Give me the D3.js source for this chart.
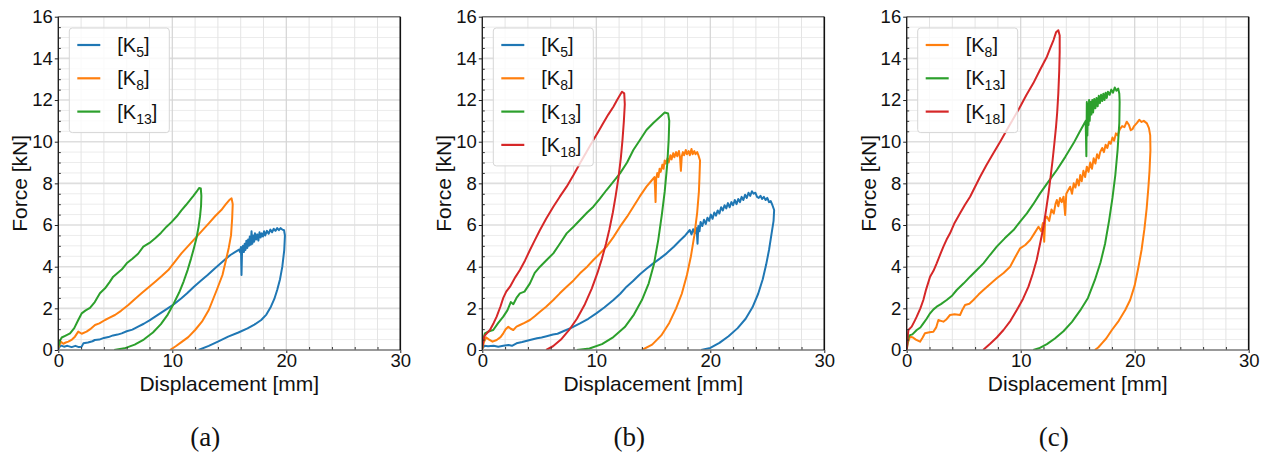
<!DOCTYPE html>
<html><head><meta charset="utf-8">
<script src="https://cdn.jsdelivr.net/npm/d3@7"></script>
<style>body{margin:0;background:#fff} svg{display:block}</style>
</head><body>
<svg id="fig" width="1267" height="460"></svg>
<script>
// Axis ticks
const xTicks = [0, 10, 20, 30];
const yTicks = [0, 2, 4, 6, 8, 10, 12, 14, 16];
const xMinor = d3.range(0, 30.01, 2);
const yMinor = d3.range(0, 16.01, 0.5);

const seriesColor = {K5: "#1f77b4", K8: "#ff7f0e", K13: "#2ca02c", K18: "#d62728"};
const seriesSub = {K5: "5", K8: "8", K13: "13", K18: "18"};

// ---- (a) force–displacement loops: [displacement mm, force kN]
const a_K5 = [[0,0.05],[0.2,0.22],[0.5,0.16],[0.8,0.2],[1.17,0.14],[1.5,0.2],[1.8,0.14],[2.05,0.16],[2.2,0.32],[2.6,0.36],[3.0,0.42],[3.2,0.48],[3.6,0.5],[4.0,0.58],[4.4,0.62],[4.8,0.7],[5.2,0.74],[5.56,0.8],[6.0,0.9],[6.5,0.98],[7.0,1.12],[7.5,1.26],[8.0,1.42],[8.5,1.6],[9.0,1.78],[9.6,2.0],[10.2,2.22],[10.8,2.48],[11.3,2.72],[11.9,3.04],[12.5,3.32],[13.1,3.6],[13.7,3.9],[14.25,4.16],[14.7,4.38],[15.1,4.56],[15.5,4.7],[15.86,4.82],[15.95,4.7],[16.02,4.95],[16.07,3.6],[16.12,4.75],[16.2,5.0],[16.28,4.7],[16.35,5.1],[16.42,4.8],[16.5,5.25],[16.58,4.9],[16.65,5.3],[16.72,5.0],[16.8,5.45],[16.88,5.05],[16.95,5.7],[17.02,5.1],[17.1,5.5],[17.18,5.2],[17.25,5.6],[17.35,5.3],[17.45,5.55],[17.55,5.25],[17.65,5.65],[17.75,5.4],[17.85,5.6],[17.95,5.45],[18.05,5.7],[18.15,5.5],[18.3,5.72],[18.45,5.58],[18.6,5.78],[18.75,5.65],[18.9,5.82],[19.05,5.72],[19.2,5.85],[19.35,5.75],[19.5,5.85],[19.65,5.78],[19.8,5.75],[19.88,5.5],[19.82,4.8],[19.65,4.0],[19.45,3.4],[19.2,2.88],[18.95,2.45],[18.65,2.08],[18.25,1.7],[17.8,1.44],[17.2,1.22],[16.6,1.04],[15.8,0.84],[14.9,0.64],[14.0,0.4],[13.2,0.2],[12.3,0]];
const a_K8 = [[0,0.1],[0.23,0.4],[0.44,0.3],[0.65,0.36],[0.88,0.4],[1.2,0.5],[1.46,0.64],[1.75,0.88],[2.05,0.78],[2.48,0.88],[2.8,1.0],[3.22,1.2],[3.6,1.28],[4.1,1.44],[4.5,1.55],[4.97,1.68],[5.5,1.88],[6.14,2.16],[6.7,2.44],[7.3,2.72],[7.9,3.0],[8.5,3.28],[9.1,3.56],[9.65,3.84],[10.2,4.22],[10.8,4.64],[11.4,5.0],[12.0,5.36],[12.6,5.72],[13.2,6.08],[13.75,6.42],[14.3,6.72],[14.7,7.0],[15.0,7.2],[15.2,7.28],[15.3,7.0],[15.25,6.3],[15.15,5.5],[14.95,4.9],[14.7,4.3],[14.4,3.6],[13.9,2.88],[13.2,1.92],[12.6,1.36],[12.0,0.96],[11.4,0.62],[10.8,0.38],[10.3,0.18],[9.8,0]];
const a_K13 = [[0,0.16],[0.15,0.45],[0.3,0.6],[0.6,0.68],[1.03,0.8],[1.4,1.05],[1.75,1.44],[1.9,1.6],[2.05,1.76],[2.4,1.9],[2.78,2.02],[3.2,2.3],[3.65,2.72],[4.1,2.96],[4.5,3.26],[4.82,3.52],[5.2,3.7],[5.56,3.86],[6.0,4.16],[6.5,4.38],[7.0,4.62],[7.46,4.96],[8.0,5.14],[8.5,5.36],[9.0,5.62],[9.5,5.92],[9.95,6.15],[10.4,6.42],[10.8,6.7],[11.2,6.96],[11.55,7.2],[11.85,7.4],[12.13,7.6],[12.35,7.78],[12.5,7.75],[12.55,7.4],[12.52,6.9],[12.43,6.4],[12.3,5.9],[12.13,5.4],[11.9,4.9],[11.65,4.4],[11.35,3.85],[11.0,3.3],[10.6,2.76],[10.1,2.2],[9.6,1.7],[9.0,1.24],[8.3,0.84],[7.5,0.5],[6.7,0.26],[5.8,0.08],[4.9,0]];

// ---- (b)
const b_K5 = [[0,0.08],[0.2,0.2],[0.5,0.18],[1.0,0.2],[1.4,0.16],[1.84,0.2],[2.3,0.24],[2.6,0.2],[3.0,0.32],[3.5,0.38],[4.18,0.48],[4.8,0.56],[5.2,0.6],[5.64,0.66],[6.2,0.74],[6.6,0.78],[7.1,0.9],[7.8,1.06],[8.57,1.28],[9.3,1.5],[10.0,1.76],[10.7,2.04],[11.5,2.4],[12.1,2.7],[12.66,3.04],[13.2,3.3],[13.83,3.64],[14.4,3.9],[15.0,4.16],[15.6,4.4],[16.17,4.64],[16.8,4.96],[17.34,5.26],[17.8,5.5],[18.2,5.76],[18.35,5.55],[18.5,5.8],[18.65,5.6],[18.8,5.85],[18.88,5.1],[18.95,5.95],[19.05,5.7],[19.15,6.15],[19.3,5.95],[19.45,6.25],[19.6,6.05],[19.75,6.35],[19.9,6.2],[20.05,6.5],[20.2,6.3],[20.35,6.6],[20.5,6.45],[20.65,6.7],[20.8,6.55],[20.95,6.85],[21.1,6.7],[21.25,6.95],[21.4,6.8],[21.55,7.05],[21.7,6.85],[21.85,7.1],[22.0,6.95],[22.15,7.2],[22.3,7.0],[22.45,7.25],[22.6,7.1],[22.75,7.35],[22.9,7.2],[23.05,7.45],[23.2,7.3],[23.35,7.55],[23.5,7.4],[23.65,7.62],[23.8,7.5],[23.95,7.55],[24.1,7.35],[24.25,7.3],[24.4,7.4],[24.55,7.25],[24.7,7.35],[24.85,7.2],[25.0,7.3],[25.15,7.1],[25.3,7.15],[25.45,6.95],[25.6,6.72],[25.55,6.2],[25.35,5.5],[25.15,4.8],[24.9,4.1],[24.6,3.4],[24.2,2.7],[23.7,2.05],[23.1,1.5],[22.4,1.05],[21.6,0.66],[20.8,0.34],[20.0,0.1],[19.2,0]];
const b_K8 = [[0,0.05],[0.15,0.4],[0.35,0.6],[0.6,0.5],[0.9,0.4],[1.26,0.48],[1.6,0.62],[1.84,0.8],[2.05,1.0],[2.28,1.12],[2.5,1.02],[2.72,0.96],[3.0,1.12],[3.3,1.2],[3.7,1.3],[4.18,1.44],[4.6,1.62],[5.06,1.84],[5.6,2.08],[6.23,2.4],[6.8,2.72],[7.4,3.04],[8.0,3.34],[8.57,3.68],[9.2,4.0],[9.74,4.32],[10.3,4.62],[10.9,4.96],[11.5,5.42],[12.08,5.92],[12.7,6.4],[13.25,6.88],[13.8,7.36],[14.4,7.84],[14.8,8.1],[15.1,8.3],[15.15,7.8],[15.2,7.1],[15.25,8.2],[15.35,8.5],[15.45,8.3],[15.55,8.7],[15.65,8.55],[15.8,8.9],[15.9,8.7],[16.0,9.1],[16.1,8.95],[16.25,9.2],[16.35,9.0],[16.5,9.35],[16.6,9.15],[16.75,9.45],[16.85,9.25],[17.0,9.5],[17.1,9.3],[17.25,9.55],[17.35,9.2],[17.42,8.6],[17.5,9.3],[17.6,9.5],[17.7,9.35],[17.85,9.6],[17.95,9.4],[18.1,9.55],[18.2,9.35],[18.35,9.65],[18.45,9.4],[18.6,9.55],[18.7,9.4],[18.85,9.5],[18.95,9.36],[19.1,9.1],[19.05,8.3],[19.0,7.6],[18.85,6.6],[18.6,5.5],[18.3,4.5],[17.95,3.6],[17.5,2.7],[17.0,2.0],[16.4,1.3],[15.7,0.7],[14.9,0.26],[14.0,0]];
const b_K13 = [[0,0.08],[0.12,0.6],[0.23,0.8],[0.6,0.9],[0.96,0.96],[1.4,1.3],[1.84,1.6],[2.2,1.9],[2.5,2.3],[2.72,2.2],[3.0,2.5],[3.3,2.72],[3.7,2.8],[4.18,3.2],[4.6,3.7],[5.06,4.0],[5.6,4.3],[6.23,4.64],[6.8,5.1],[7.4,5.6],[8.0,5.92],[8.57,6.24],[9.2,6.6],[9.74,6.88],[10.3,7.25],[10.9,7.68],[11.5,8.08],[12.08,8.48],[12.7,9.0],[13.25,9.6],[13.8,10.06],[14.4,10.56],[15.0,10.9],[15.6,11.2],[16.0,11.4],[16.3,11.35],[16.4,11.0],[16.35,10.1],[16.22,8.9],[16.0,7.6],[15.75,6.5],[15.44,5.3],[15.05,4.1],[14.6,3.2],[14.0,2.4],[13.3,1.7],[12.5,1.1],[11.5,0.62],[10.5,0.28],[9.4,0.07],[8.3,0]];
const b_K18 = [[0,0.08],[0.1,0.5],[0.23,0.7],[0.67,0.96],[1.0,1.3],[1.26,1.6],[1.6,2.1],[1.84,2.5],[2.1,2.8],[2.43,3.04],[2.9,3.5],[3.3,3.84],[3.75,4.3],[4.18,4.8],[4.6,5.26],[5.06,5.76],[5.6,6.3],[6.23,6.88],[6.8,7.36],[7.4,7.84],[8.0,8.4],[8.57,8.96],[9.15,9.52],[9.74,10.08],[10.2,10.5],[10.6,10.88],[11.05,11.3],[11.5,11.68],[11.8,11.98],[12.08,12.24],[12.25,12.4],[12.45,12.32],[12.5,11.8],[12.42,11.0],[12.3,10.1],[12.15,9.2],[11.95,8.3],[11.7,7.4],[11.45,6.6],[11.15,5.8],[10.85,5.1],[10.5,4.4],[10.1,3.7],[9.6,2.95],[9.0,2.2],[8.3,1.5],[7.6,0.95],[6.9,0.5],[6.2,0.18],[5.6,0]];

// ---- (c)
const c_K8 = [[0,0],[0.1,0.35],[0.29,0.64],[0.55,0.6],[0.8,0.5],[1.17,0.4],[1.4,0.6],[1.6,0.8],[2.0,0.85],[2.34,0.88],[2.6,1.1],[2.78,1.44],[3.0,1.4],[3.22,1.36],[3.5,1.48],[3.8,1.68],[4.2,1.72],[4.68,1.68],[4.9,1.95],[5.12,2.16],[5.5,2.22],[5.85,2.4],[6.3,2.66],[6.73,2.88],[7.3,3.16],[7.9,3.44],[8.5,3.7],[9.07,4.0],[9.5,4.44],[9.95,4.88],[10.4,5.04],[10.83,5.28],[11.2,5.6],[11.56,5.92],[11.8,5.7],[11.95,6.1],[12.06,5.2],[12.15,6.3],[12.3,6.4],[12.5,6.2],[12.7,6.75],[12.9,6.55],[13.05,7.0],[13.17,7.2],[13.3,6.9],[13.45,7.3],[13.6,7.1],[13.76,7.36],[13.9,6.48],[14.0,7.5],[14.2,7.7],[14.34,7.84],[14.5,7.5],[14.65,8.0],[14.8,7.8],[14.95,8.2],[15.1,7.9],[15.22,8.4],[15.35,8.1],[15.5,8.6],[15.65,8.3],[15.8,8.8],[15.95,8.55],[16.1,9.0],[16.25,8.7],[16.4,9.2],[16.55,8.95],[16.7,9.4],[16.85,9.2],[16.97,9.5],[17.15,9.7],[17.3,9.5],[17.45,9.85],[17.6,9.7],[17.75,10.0],[17.9,9.9],[18.05,10.2],[18.2,10.05],[18.35,10.4],[18.5,10.3],[18.7,10.6],[18.9,10.75],[19.1,10.7],[19.3,10.96],[19.5,10.8],[19.65,10.55],[19.8,10.6],[19.95,10.75],[20.2,10.9],[20.4,11.05],[20.6,10.95],[20.8,11.0],[21.07,10.88],[21.25,10.65],[21.36,10.3],[21.38,9.6],[21.3,8.6],[21.2,7.8],[21.05,6.8],[20.85,5.8],[20.6,4.8],[20.3,3.9],[20.0,3.1],[19.6,2.4],[19.17,1.92],[18.6,1.4],[18.0,0.96],[17.5,0.55],[17.12,0.32],[16.8,0.12],[16.5,0]];
const c_K13 = [[0,0],[0.1,0.5],[0.23,0.7],[0.5,0.75],[0.88,0.96],[1.2,1.08],[1.46,1.28],[1.75,1.5],[2.05,1.76],[2.35,1.95],[2.63,2.08],[3.0,2.2],[3.51,2.4],[4.0,2.62],[4.39,2.88],[5.0,3.2],[5.56,3.52],[6.15,3.84],[6.73,4.16],[7.3,4.56],[7.9,4.96],[8.6,5.36],[9.37,5.76],[9.95,6.16],[10.54,6.56],[11.1,7.0],[11.7,7.52],[12.4,8.06],[13.17,8.64],[13.9,9.26],[14.63,9.92],[15.2,10.5],[15.6,10.9],[15.7,11.0],[15.76,9.3],[15.8,11.9],[15.85,10.3],[15.9,11.8],[15.95,10.8],[16.0,12.0],[16.05,11.0],[16.12,11.9],[16.2,11.3],[16.28,12.0],[16.35,11.4],[16.45,12.05],[16.55,11.6],[16.65,12.1],[16.75,11.7],[16.85,12.2],[16.95,11.85],[17.05,12.25],[17.15,11.95],[17.25,12.3],[17.35,12.0],[17.45,12.35],[17.55,12.1],[17.65,12.4],[17.8,12.25],[17.95,12.5],[18.1,12.35],[18.25,12.6],[18.4,12.45],[18.55,12.55],[18.65,12.3],[18.68,11.9],[18.65,10.9],[18.5,9.6],[18.3,8.4],[18.05,7.3],[17.75,6.2],[17.4,5.1],[17.0,4.2],[16.5,3.35],[15.9,2.5],[15.22,1.9],[14.5,1.35],[13.75,0.9],[13.0,0.55],[12.3,0.28],[11.6,0.08],[11.1,0]];
const c_K18 = [[0,0],[0.08,0.6],[0.15,0.96],[0.44,1.12],[0.7,1.4],[0.88,1.6],[1.2,2.0],[1.46,2.4],[1.7,2.9],[2.05,3.52],[2.35,3.8],[2.63,4.16],[2.95,4.6],[3.22,4.96],[3.5,5.3],[3.8,5.6],[4.2,6.1],[4.68,6.56],[5.1,6.96],[5.56,7.36],[6.0,7.84],[6.44,8.32],[7.0,8.88],[7.6,9.44],[8.2,10.0],[8.78,10.56],[9.35,11.1],[9.95,11.68],[10.5,12.24],[11.1,12.8],[11.7,13.45],[12.3,14.08],[12.6,14.5],[12.88,14.88],[13.1,15.25],[13.3,15.35],[13.42,15.1],[13.42,14.3],[13.38,13.4],[13.3,12.32],[13.2,11.4],[13.1,10.72],[12.95,9.9],[12.8,9.12],[12.62,8.3],[12.44,7.52],[12.22,6.7],[12.0,5.92],[11.7,5.1],[11.4,4.32],[11.05,3.65],[10.68,3.04],[10.2,2.45],[9.66,1.92],[9.1,1.4],[8.49,0.96],[7.9,0.6],[7.32,0.3],[6.7,0]];

const panels = [
  {caption: "(a)", left: 58.3,  series: [["K5", a_K5], ["K8", a_K8], ["K13", a_K13]]},
  {caption: "(b)", left: 482.3, series: [["K5", b_K5], ["K8", b_K8], ["K13", b_K13], ["K18", b_K18]]},
  {caption: "(c)", left: 906.7, series: [["K8", c_K8], ["K13", c_K13], ["K18", c_K18]]}
];

const plotW = 342, plotTop = 16.7, plotBottom = 350;
const sans = "'Liberation Sans', Arial, Helvetica, sans-serif";
const svg = d3.select("#fig");
svg.append("rect").attr("width", 1267).attr("height", 460).attr("fill", "#fff");

panels.forEach((p, i) => {
  const x = d3.scaleLinear().domain([0, 30]).range([p.left, p.left + plotW]);
  const y = d3.scaleLinear().domain([0, 16]).range([plotBottom, plotTop]);
  const g = svg.append("g");

  // grid: minor first, major on top
  g.selectAll(".hmin").data(yMinor.filter(v => v % 2 !== 0)).join("line")
    .attr("x1", x(0)).attr("x2", x(30)).attr("y1", d => y(d)).attr("y2", d => y(d))
    .attr("stroke", "#ececec").attr("stroke-width", 1);
  g.selectAll(".vmin").data(xMinor.filter(v => v % 10 !== 0)).join("line")
    .attr("y1", y(0)).attr("y2", y(16)).attr("x1", d => x(d)).attr("x2", d => x(d))
    .attr("stroke", "#e4e4e4").attr("stroke-width", 1);
  g.selectAll(".hmaj").data(yTicks.slice(1, -1)).join("line")
    .attr("x1", x(0)).attr("x2", x(30)).attr("y1", d => y(d)).attr("y2", d => y(d))
    .attr("stroke", "#dedede").attr("stroke-width", 1.6);
  g.selectAll(".vmaj").data(xTicks.slice(1, -1)).join("line")
    .attr("y1", y(0)).attr("y2", y(16)).attr("x1", d => x(d)).attr("x2", d => x(d))
    .attr("stroke", "#d4d4d4").attr("stroke-width", 1.2);

  // curves
  const clipId = "clip" + i;
  svg.append("clipPath").attr("id", clipId).append("rect")
    .attr("x", x(0)).attr("y", y(16)).attr("width", plotW).attr("height", plotBottom - plotTop);
  const line = d3.line().x(d => x(d[0])).y(d => y(d[1]));
  const curves = g.append("g").attr("clip-path", `url(#${clipId})`);
  p.series.forEach(([key, pts]) => {
    curves.append("path").datum(pts).attr("d", line)
      .attr("fill", "none").attr("stroke", seriesColor[key]).attr("stroke-width", 2)
      .attr("stroke-linejoin", "round");
  });

  // minor ticks (inward)
  const xm = g.append("g").attr("transform", `translate(0,${plotBottom})`)
    .call(d3.axisBottom(x).tickValues(xMinor.filter(v => v % 10 !== 0)).tickSize(-3).tickFormat(""));
  const ym = g.append("g").attr("transform", `translate(${x(0)},0)`)
    .call(d3.axisLeft(y).tickValues(yMinor.filter(v => v % 2 !== 0)).tickSize(-2.5).tickFormat(""));
  [xm, ym].forEach(a => { a.select(".domain").remove(); a.selectAll("line").attr("stroke", "#333"); });

  // major ticks and labels
  const xa = g.append("g").attr("transform", `translate(0,${plotBottom})`)
    .call(d3.axisBottom(x).tickValues(xTicks).tickSize(3).tickPadding(1));
  const ya = g.append("g").attr("transform", `translate(${x(0)},0)`)
    .call(d3.axisLeft(y).tickValues(yTicks).tickSize(3.5).tickPadding(2));
  [xa, ya].forEach(a => {
    a.select(".domain").remove();
    a.selectAll("line").attr("stroke", "#222");
    a.selectAll("text").attr("font-family", sans).attr("font-size", 18.5).attr("fill", "#111");
  });

  // frame
  g.append("line").attr("x1", x(0)).attr("x2", x(30)).attr("y1", y(16)).attr("y2", y(16)).attr("stroke", "#777").attr("stroke-width", 1.6);
  g.append("line").attr("x1", x(0)).attr("x2", x(30)).attr("y1", y(0)).attr("y2", y(0)).attr("stroke", "#777").attr("stroke-width", 1.6);
  g.append("line").attr("x1", x(0)).attr("x2", x(0)).attr("y1", y(0)).attr("y2", y(16)).attr("stroke", "#222").attr("stroke-width", 1.4);
  g.append("line").attr("x1", x(30)).attr("x2", x(30)).attr("y1", y(0)).attr("y2", y(16)).attr("stroke", "#111").attr("stroke-width", 1.6);

  // axis titles
  g.append("text").attr("x", x(15)).attr("y", 391).attr("text-anchor", "middle")
    .attr("font-family", sans).attr("font-size", 21).attr("fill", "#111").text("Displacement [mm]");
  g.append("text").attr("transform", `translate(${p.left - 31},${(plotTop + plotBottom) / 2}) rotate(-90)`)
    .attr("text-anchor", "middle").attr("font-family", sans).attr("font-size", 21).attr("fill", "#111").text("Force [kN]");

  // legend
  const n = p.series.length;
  const lg = g.append("g").attr("transform", `translate(${p.left + 11},28)`);
  lg.append("rect").attr("width", 100).attr("height", 38 + (n - 1) * 33.3)
    .attr("rx", 3).attr("fill", "#fff").attr("fill-opacity", 0.8)
    .attr("stroke", "#d6d6d6").attr("stroke-width", 1);
  p.series.forEach(([key], j) => {
    const cy = 17 + j * 33.3;
    lg.append("line").attr("x1", 8).attr("x2", 31).attr("y1", cy).attr("y2", cy)
      .attr("stroke", seriesColor[key]).attr("stroke-width", 2.2);
    const t = lg.append("text").attr("x", 48).attr("y", cy + 7)
      .attr("font-family", sans).attr("font-size", 20).attr("fill", "#111");
    t.append("tspan").text("[K");
    t.append("tspan").attr("font-size", 14).attr("dy", 5).text(seriesSub[key]);
    t.append("tspan").attr("dy", -5).text("]");
  });

  // panel caption
  g.append("text").attr("x", p.left + 147).attr("y", 446).attr("text-anchor", "middle")
    .attr("font-family", "'Liberation Serif', 'DejaVu Serif', serif").attr("font-size", 27)
    .attr("fill", "#111").text(p.caption);
});
</script>
</body></html>
